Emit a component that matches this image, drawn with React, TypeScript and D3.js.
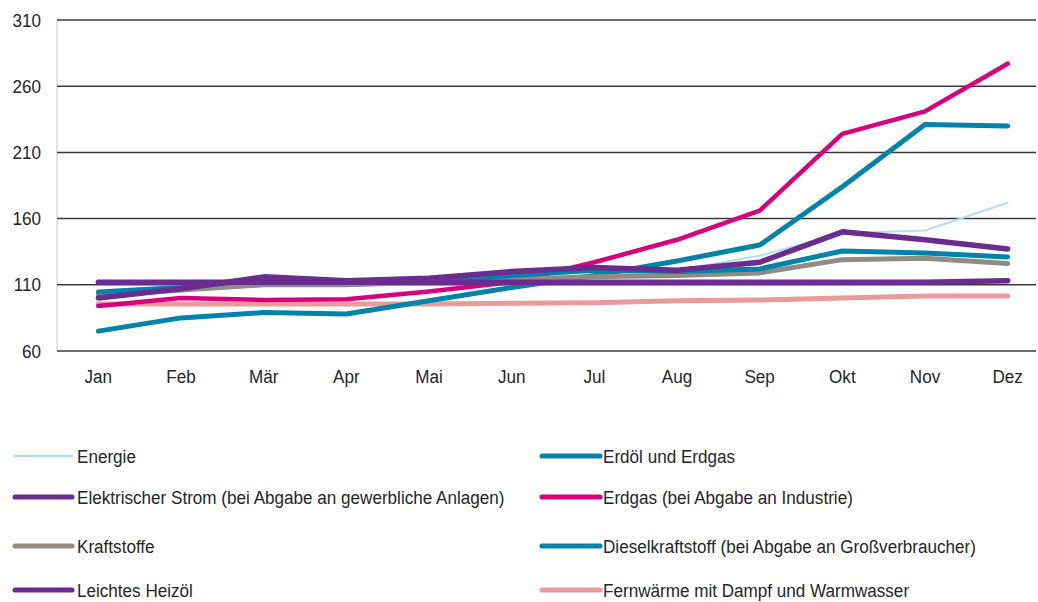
import React from "react";
import * as d3 from "d3";

const months = ["Jan", "Feb", "Mär", "Apr", "Mai", "Jun", "Jul", "Aug", "Sep", "Okt", "Nov", "Dez"];
const yTicks = [60, 110, 160, 210, 260, 310];

const energie = [101, 105, 110, 109, 111, 114, 118, 121, 132, 149, 151, 172];
const erdoelErdgas = [75, 85, 89, 88, 98, 108, 117, 128, 140, 184, 231, 230];
const elektrStrom = [112, 112, 112, 112, 112, 112, 112, 112, 112, 112, 112, 113];
const erdgasIndustrie = [94, 100, 98.5, 99, 105, 112, 127, 144, 166, 224, 241, 277];
const kraftstoffe = [102, 106, 110, 110, 112, 114, 116, 117, 119, 129, 130, 126];
const diesel = [104.5, 108, 114, 112, 113, 117, 121, 120, 122, 135.5, 134, 131];
const leichtesHeizoel = [100, 107, 116, 113, 115, 120, 123, 121, 127, 150, 144, 137];
const fernwaerme = [95.5, 95.5, 95.5, 95.5, 95.5, 96, 96.5, 98, 98.5, 100, 101.5, 101.5];

type S = { name: string; values: number[]; color: string; width: number };

const series: S[] = [
  { name: "Energie", values: energie, color: "#b3dfe6", width: 2 },
  { name: "Fernwärme mit Dampf und Warmwasser", values: fernwaerme, color: "#e99a9b", width: 5 },
  { name: "Erdöl und Erdgas", values: erdoelErdgas, color: "#0083a9", width: 5 },
  { name: "Erdgas (bei Abgabe an Industrie)", values: erdgasIndustrie, color: "#d6007f", width: 4.5 },
  { name: "Kraftstoffe", values: kraftstoffe, color: "#8e8c83", width: 5 },
  { name: "Dieselkraftstoff (bei Abgabe an Großverbraucher)", values: diesel, color: "#0083a9", width: 5 },
  { name: "Elektrischer Strom (bei Abgabe an gewerbliche Anlagen)", values: elektrStrom, color: "#6a2c8f", width: 5.5 },
  { name: "Leichtes Heizöl", values: leichtesHeizoel, color: "#6a2c8f", width: 5.5 },
];

const legendLeft = ["Energie", "Elektrischer Strom (bei Abgabe an gewerbliche Anlagen)", "Kraftstoffe", "Leichtes Heizöl"];
const legendRight = ["Erdöl und Erdgas", "Erdgas (bei Abgabe an Industrie)", "Dieselkraftstoff (bei Abgabe an Großverbraucher)", "Fernwärme mit Dampf und Warmwasser"];

const FONT = "'Liberation Sans', Arial, sans-serif";
const SX = 0.9;

function T(props: { x: number; y: number; anchor?: string; children: React.ReactNode }) {
  return (
    <text
      transform={`translate(${props.x},${props.y}) scale(${SX},1)`}
      dy="0.35em"
      textAnchor={props.anchor || "start"}
      fontSize={19}
      fill="#262626"
    >
      {props.children}
    </text>
  );
}

export default function App() {
  const W = 1038, H = 602;
  const plotL = 57, plotR = 1036;
  const x = d3.scalePoint<string>().domain(months).range([57, 1049]).padding(0.5);
  const y = d3.scaleLinear().domain([60, 310]).range([351, 20]);
  const line = d3.line<number>().x((_, i) => x(months[i]) as number).y((d) => y(d));
  const legendRows = [456, 497, 546, 590];
  const byName = (n: string) => series.find((s) => s.name === n)!;

  return (
    <svg width={W} height={H} style={{ position: "absolute", left: 0, top: 0, background: "#fff" }} fontFamily={FONT}>
      <rect width={W} height={H} fill="#fff" />
      <line x1={plotL} x2={plotL} y1={y(310)} y2={y(60)} stroke="#c8c8c8" strokeWidth={1} />
      {yTicks.map((t) => (
        <g key={t}>
          <line x1={plotL} x2={plotR} y1={y(t)} y2={y(t)} stroke="#3a3a3a" strokeWidth={1.5} />
          <T x={41} y={y(t)} anchor="end">{t}</T>
        </g>
      ))}
      {months.map((m) => (
        <T key={m} x={x(m) as number} y={376} anchor="middle">{m}</T>
      ))}
      {series.map((s) => (
        <path key={s.name} d={line(s.values) || ""} fill="none" stroke={s.color} strokeWidth={s.width} strokeLinejoin="round" strokeLinecap="round" />
      ))}
      {legendLeft.map((n, i) => {
        const s = byName(n);
        return (
          <g key={n}>
            <line x1={15} x2={72} y1={legendRows[i]} y2={legendRows[i]} stroke={s.color} strokeWidth={s.width === 2 ? 2.5 : 5} strokeLinecap="round" />
            <T x={77} y={legendRows[i]}>{n}</T>
          </g>
        );
      })}
      {legendRight.map((n, i) => {
        const s = byName(n);
        return (
          <g key={n}>
            <line x1={542} x2={600} y1={legendRows[i]} y2={legendRows[i]} stroke={s.color} strokeWidth={5} strokeLinecap="round" />
            <T x={603} y={legendRows[i]}>{n}</T>
          </g>
        );
      })}
    </svg>
  );
}
